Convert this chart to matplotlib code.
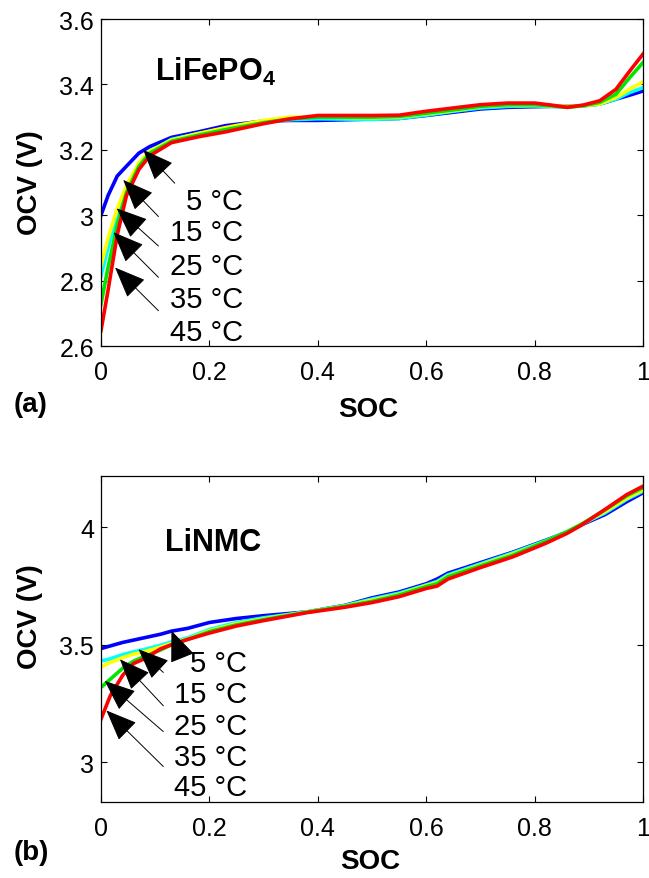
import matplotlib
matplotlib.use('Agg')
import matplotlib.pyplot as plt

plt.rcParams['font.family'] = ['Liberation Sans', 'DejaVu Sans']
plt.rcParams['mathtext.fontset'] = 'custom'
plt.rcParams['mathtext.bf'] = 'Liberation Sans:bold'
plt.rcParams['mathtext.rm'] = 'Liberation Sans'

# ---- data ----
temps = ['5 °C', '15 °C', '25 °C', '35 °C', '45 °C']
colors = ['#0000ff', '#00ffff', '#ffff00', '#00e600', '#ff0000']

# (a) LiFePO4
soc_a = [0, 0.013, 0.03, 0.047, 0.07, 0.09, 0.13, 0.18, 0.23, 0.3, 0.35, 0.4, 0.5,
         0.55, 0.6, 0.65, 0.7, 0.75, 0.8, 0.83, 0.86, 0.89, 0.92, 0.95, 0.975, 1.0]
ocv_a_5 = [3.0, 3.06, 3.12, 3.15, 3.19, 3.21, 3.238, 3.255, 3.274, 3.288, 3.29, 3.29, 3.294,
           3.296, 3.305, 3.315, 3.325, 3.33, 3.332, 3.333, 3.333, 3.335, 3.34, 3.355, 3.367, 3.38]
ocv_a_15 = [2.815, 2.9, 3.0, 3.08, 3.155, 3.195, 3.232, 3.25, 3.265, 3.285, 3.292, 3.295, 3.293,
            3.296, 3.306, 3.318, 3.328, 3.333, 3.334, 3.333, 3.331, 3.335, 3.34, 3.355, 3.375, 3.39]
ocv_a_25 = [2.846, 2.93, 3.02, 3.09, 3.16, 3.195, 3.23, 3.25, 3.268, 3.29, 3.3, 3.3, 3.298,
            3.3, 3.31, 3.32, 3.332, 3.337, 3.337, 3.335, 3.333, 3.335, 3.34, 3.36, 3.385, 3.408]
ocv_a_35 = [2.728, 2.84, 2.97, 3.07, 3.15, 3.19, 3.226, 3.245, 3.262, 3.283, 3.295, 3.3, 3.3,
            3.302, 3.312, 3.322, 3.333, 3.338, 3.338, 3.335, 3.33, 3.335, 3.345, 3.37, 3.42, 3.467]
ocv_a_45 = [2.647, 2.77, 2.94, 3.06, 3.14, 3.182, 3.222, 3.24, 3.255, 3.28, 3.295, 3.305, 3.305,
            3.306, 3.318, 3.328, 3.338, 3.343, 3.343, 3.337, 3.33, 3.337, 3.35, 3.385, 3.44, 3.493]

# (b) LiNMC
soc_b = [0, 0.017, 0.04, 0.06, 0.08, 0.11, 0.13, 0.16, 0.2, 0.25, 0.3, 0.38, 0.45, 0.5,
         0.55, 0.6, 0.62, 0.64, 0.7, 0.76, 0.82, 0.86, 0.885, 0.93, 0.97, 1.0]
ocv_b_5 = [3.484, 3.495, 3.51, 3.52, 3.53, 3.545, 3.558, 3.57, 3.595, 3.612, 3.624, 3.64, 3.668,
           3.7, 3.725, 3.76, 3.78, 3.805, 3.85, 3.895, 3.945, 3.98, 4.01, 4.055, 4.11, 4.148]
ocv_b_15 = [3.431, 3.44, 3.458, 3.47, 3.48, 3.498, 3.512, 3.53, 3.565, 3.595, 3.615, 3.64, 3.667,
            3.695, 3.72, 3.755, 3.77, 3.798, 3.845, 3.892, 3.943, 3.982, 4.012, 4.062, 4.12, 4.155]
ocv_b_25 = [3.407, 3.424, 3.445, 3.46, 3.47, 3.49, 3.505, 3.525, 3.56, 3.59, 3.61, 3.64, 3.665,
            3.69, 3.715, 3.752, 3.765, 3.793, 3.84, 3.887, 3.94, 3.98, 4.012, 4.068, 4.125, 4.16]
ocv_b_35 = [3.318, 3.353, 3.40, 3.43, 3.45, 3.478, 3.50, 3.523, 3.556, 3.585, 3.607, 3.639, 3.664,
            3.685, 3.712, 3.748, 3.76, 3.79, 3.836, 3.882, 3.94, 3.982, 4.012, 4.075, 4.135, 4.17]
ocv_b_45 = [3.183, 3.282, 3.37, 3.42, 3.44, 3.483, 3.5, 3.523, 3.55, 3.58, 3.603, 3.637, 3.66,
            3.68, 3.705, 3.74, 3.75, 3.78, 3.829, 3.875, 3.932, 3.975, 4.008, 4.077, 4.14, 4.176]

# arrow tips / tails and label positions (data coords)
arrow_tip_a = [(0.078, 3.2), (0.041, 3.108), (0.029, 3.021), (0.023, 2.948), (0.026, 2.84)]
arrow_tail_a = [(0.136, 3.098), (0.106, 2.996), (0.106, 2.906), (0.106, 2.81), (0.106, 2.708)]
label_y_a = [3.044, 2.949, 2.845, 2.744, 2.643]

arrow_tip_b = [(0.13, 3.56), (0.069, 3.481), (0.035, 3.438), (0.007, 3.346), (0.01, 3.22)]
arrow_tail_b = [(0.149, 3.451), (0.115, 3.382), (0.115, 3.24), (0.115, 3.13), (0.115, 2.981)]
label_y_b = [3.421, 3.289, 3.155, 3.02, 2.892]

fig = plt.figure(figsize=(6.49, 8.79), dpi=100)
ax1 = fig.add_axes([0.1556, 0.6052, 0.8352, 0.372])
ax2 = fig.add_axes([0.1556, 0.0865, 0.8352, 0.371])


def draw_panel(ax, soc, curves, tips, tails, label_y, label_x):
    for ocv, c in zip(curves, colors):
        ax.plot(soc, ocv, color=c, lw=2.6, solid_joinstyle='miter')
    for tip, tail, t, ly in zip(tips, tails, temps, label_y):
        ax.annotate('', xy=tip, xytext=tail,
                    arrowprops=dict(arrowstyle='-|>,head_length=1.1,head_width=0.45',
                                    color='black', lw=0.7, mutation_scale=18,
                                    shrinkA=0, shrinkB=0))
        ax.text(label_x, ly, t, fontsize=21, ha='right', va='center')
    ax.set_xlim(0, 1)
    ax.set_xticks([0, 0.2, 0.4, 0.6, 0.8, 1])
    ax.set_xticklabels(['0', '0.2', '0.4', '0.6', '0.8', '1'])
    ax.tick_params(direction='in', length=4, width=0.8, top=True, right=True, labelsize=18)
    ax.tick_params(axis='x', pad=10)
    ax.tick_params(axis='y', pad=5)
    for s in ax.spines.values():
        s.set_linewidth(0.9)


draw_panel(ax1, soc_a, [ocv_a_5, ocv_a_15, ocv_a_25, ocv_a_35, ocv_a_45],
           arrow_tip_a, arrow_tail_a, label_y_a, 0.262)
ax1.set_ylim(2.6, 3.6)
ax1.set_yticks([2.6, 2.8, 3.0, 3.2, 3.4, 3.6])
ax1.set_yticklabels(['2.6', '2.8', '3', '3.2', '3.4', '3.6'])
ax1.text(0.1, 3.44, r'$\mathbf{LiFePO_4}$', fontsize=22, va='center')

draw_panel(ax2, soc_b, [ocv_b_5, ocv_b_15, ocv_b_25, ocv_b_35, ocv_b_45],
           arrow_tip_b, arrow_tail_b, label_y_b, 0.27)
ax2.set_ylim(2.83, 4.22)
ax2.set_yticks([3, 3.5, 4])
ax2.set_yticklabels(['3', '3.5', '4'])
ax2.text(0.118, 3.94, 'LiNMC', fontsize=22, fontweight='bold', va='center')

# labels placed in figure coords
fig.text(30 / 649, 1 - 183 / 879, 'OCV (V)', rotation=90, fontsize=20, fontweight='bold',
         ha='center', va='center')
fig.text(30 / 649, 1 - 617 / 879, 'OCV (V)', rotation=90, fontsize=20, fontweight='bold',
         ha='center', va='center')
fig.text(368 / 649, 1 - 410 / 879, 'SOC', fontsize=20, fontweight='bold', ha='center', va='center')
fig.text(370 / 649, 1 - 862 / 879, 'SOC', fontsize=20, fontweight='bold', ha='center', va='center')
fig.text(31 / 649, 1 - 405 / 879, '(a)', fontsize=20, fontweight='bold', ha='center', va='center')
fig.text(31 / 649, 1 - 853 / 879, '(b)', fontsize=20, fontweight='bold', ha='center', va='center')

fig.savefig('out.png', dpi=100)
